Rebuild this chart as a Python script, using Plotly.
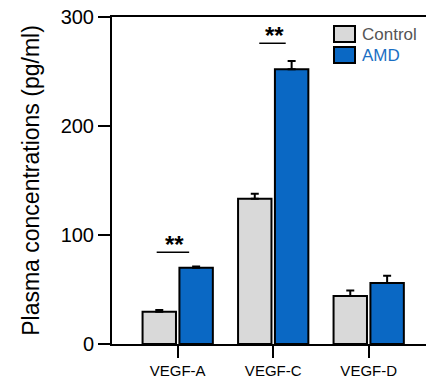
import plotly.graph_objects as go

categories = ["VEGF-A", "VEGF-C", "VEGF-D"]
control_vals = [29.6, 133.3, 44.0]
control_err = [1.5, 4.6, 5.0]
amd_vals = [70.0, 252.0, 56.0]
amd_err = [1.2, 7.6, 6.7]
y_ticks = [0, 100, 200, 300]
sig_labels = ["**", "**", ""]
sig_heights = [84.1, 275.9, None]

FONT = "Arial, Liberation Sans, sans-serif"
x_pos = list(range(len(categories)))
sig_x_span = [(-0.22, 0.12), (-0.146, 0.131), None]

fig = go.Figure()
fig.add_trace(go.Bar(
    x=x_pos, y=control_vals, name="Control",
    width=0.35, offset=-0.368,
    marker=dict(color="#d9d9d9", line=dict(color="black", width=2)),
    error_y=dict(type="data", array=control_err, arrayminus=[0]*3, symmetric=False,
                 color="black", thickness=2, width=4),
    showlegend=False,
))
fig.add_trace(go.Bar(
    x=x_pos, y=amd_vals, name="AMD",
    width=0.35, offset=0.018,
    marker=dict(color="#0a68c4", line=dict(color="black", width=2)),
    error_y=dict(type="data", array=amd_err, arrayminus=[0]*3, symmetric=False,
                 color="black", thickness=2, width=4),
    showlegend=False,
))

shapes = []
annotations = []
for i, (lab, h, span) in enumerate(zip(sig_labels, sig_heights, sig_x_span)):
    if not lab:
        continue
    shapes.append(dict(type="line", xref="x", yref="y", x0=i + span[0], x1=i + span[1],
                       y0=h, y1=h, line=dict(color="black", width=1.5)))
    annotations.append(dict(x=i + (span[0] + span[1]) / 2 + 0.02, y=h, xref="x", yref="y",
                            text="<b>" + lab + "</b>",
                            showarrow=False, yanchor="bottom", yshift=-8,
                            font=dict(family=FONT, size=24, color="black")))

# manual legend
legend_items = [("Control", "#d9d9d9", "#555555"), ("AMD", "#0a68c4", "#1a6fc4")]
for k, (name, fill, tcol) in enumerate(legend_items):
    y_top = 26 + k * 21
    shapes.append(dict(type="rect", xref="paper", yref="paper",
                       x0=(334 - 112) / 314, x1=(355 - 112) / 314,
                       y0=(344 - (y_top + 16)) / 327, y1=(344 - y_top) / 327,
                       fillcolor=fill, line=dict(color="black", width=2)))
    annotations.append(dict(xref="paper", yref="paper", x=(360 - 112) / 314,
                            y=(344 - (y_top + 8)) / 327, text=name, showarrow=False,
                            xanchor="left", yanchor="middle",
                            font=dict(family=FONT, size=17, color=tcol)))

fig.update_layout(
    width=426, height=378,
    margin=dict(l=112, r=0, t=17, b=34),
    plot_bgcolor="white", paper_bgcolor="white",
    barmode="overlay",
    font=dict(family=FONT, color="black"),
    shapes=shapes, annotations=annotations,
    xaxis=dict(range=[-0.688, 2.6], tickmode="array", tickvals=x_pos, ticktext=categories,
               showline=True, linecolor="black", linewidth=2, mirror=True,
               ticks="outside", ticklen=12, tickwidth=2, tickcolor="black",
               tickfont=dict(size=15, family=FONT), showgrid=False, zeroline=False),
    yaxis=dict(range=[0, 300], tickvals=y_ticks, showline=True, linecolor="black",
               linewidth=2, ticks="outside", ticklen=12, tickwidth=2, tickcolor="black",
               tickfont=dict(size=20, family=FONT), showgrid=False, zeroline=False,
               title=dict(text="Plasma concentrations (pg/ml)", font=dict(size=23, family=FONT),
                          standoff=15)),
)

fig.write_html("out.html", config={"displayModeBar": False},
               post_script="document.body.style.margin='0';document.body.style.overflow='hidden';")
